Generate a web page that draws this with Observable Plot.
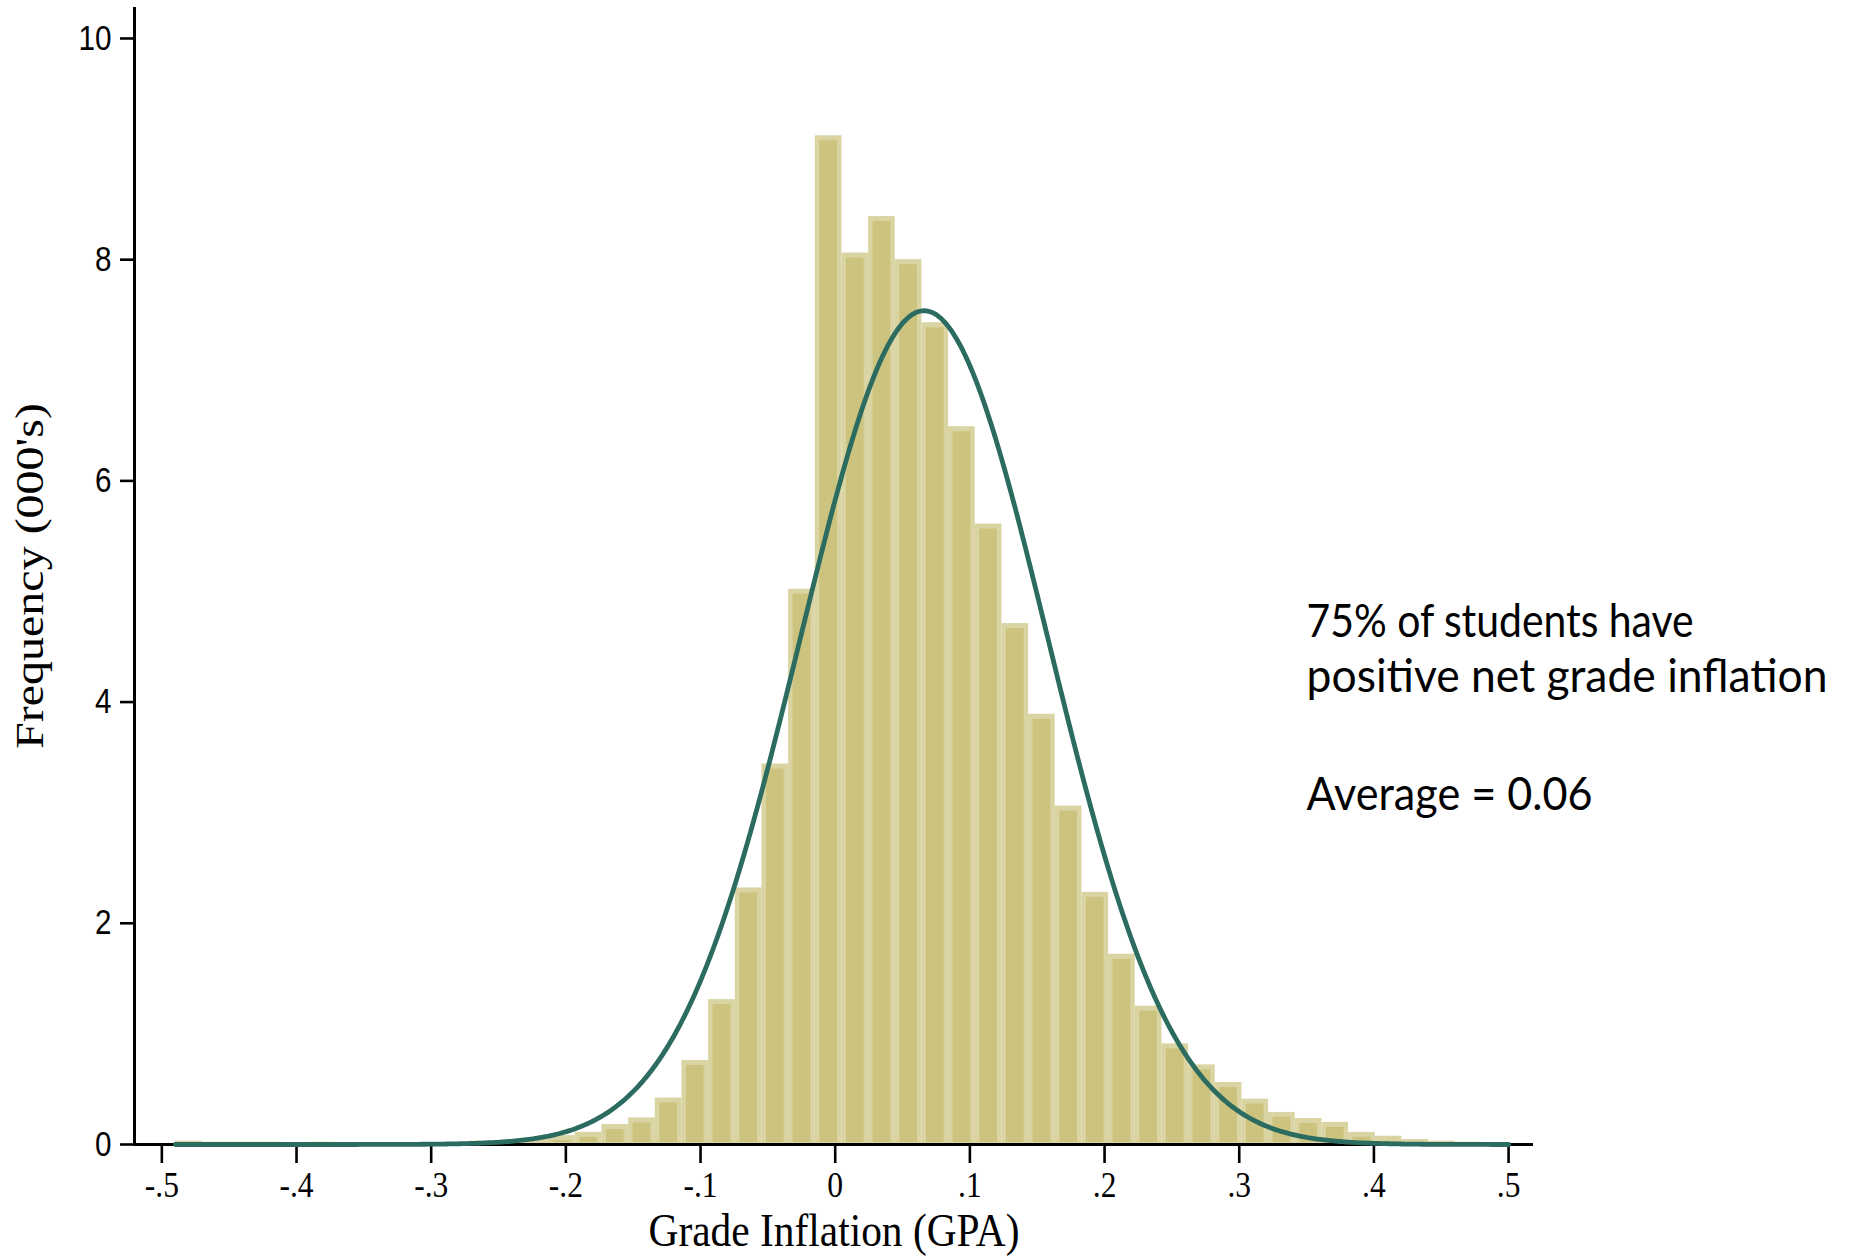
<!DOCTYPE html>
<html><head><meta charset="utf-8">
<script src="https://cdn.jsdelivr.net/npm/d3@7"></script>
<script src="https://cdn.jsdelivr.net/npm/@observablehq/plot@0.6"></script>
<style>
html,body{margin:0;padding:0;background:#fff;}
#chart svg{display:block;}
[aria-label^="x-axis"] path, [aria-label^="x-axis"] line,
[aria-label^="y-axis"] path, [aria-label^="y-axis"] line { stroke-width: 2.6px; stroke: #000; }
</style></head><body><div id="chart"></div>
<script>
// ---- data ----
const binStart = -0.49;
const binWidth = 0.0198;
const counts = [
  0.03, 0.02, 0.02, 0.02, 0.01, 0.02, 0.01, 0.01, 0.01, 0.01,
  0.02, 0.03, 0.03, 0.05, 0.08, 0.11, 0.18, 0.24, 0.42, 0.76,
  1.31, 2.32, 3.44, 5.02, 9.12, 8.06, 8.39, 8.00, 7.43, 6.49,
  5.61, 4.71, 3.89, 3.06, 2.28, 1.72, 1.25, 0.91, 0.72, 0.56,
  0.41, 0.29, 0.235, 0.20, 0.11, 0.075, 0.045, 0.03, 0.02, 0.015
];
const xTicks = [-0.5, -0.4, -0.3, -0.2, -0.1, 0, 0.1, 0.2, 0.3, 0.4, 0.5];
const xTickLabels = ["-.5", "-.4", "-.3", "-.2", "-.1", "0", ".1", ".2", ".3", ".4", ".5"];
const yTicks = [0, 2, 4, 6, 8, 10];
const yTickLabels = ["0", "2", "4", "6", "8", "10"];
const normalMean = 0.066;
const normalSD = 0.092;
const xTitle = "Grade Inflation (GPA)";
const yTitle = "Frequency (000's)";
const noteLines = ["75% of students have", "positive net grade inflation", "Average = 0.06"];

// ---- derived tables ----
const bins = counts.map((c, i) => ({x1: binStart + i * binWidth, x2: binStart + (i + 1) * binWidth, count: c}));
const total = d3.sum(counts);
const xMin = binStart, xMax = binStart + counts.length * binWidth;
const curve = d3.range(0, 601).map(i => {
  const x = xMin + (xMax - xMin) * i / 600;
  const z = (x - normalMean) / normalSD;
  return {x, y: total * binWidth / (normalSD * Math.sqrt(2 * Math.PI)) * Math.exp(-0.5 * z * z)};
});

const xDomain = [-0.5203, 0.5185];
const noteX = 0.35, noteY = 4.72;
const noteFont = "Lato, 'Open Sans', sans-serif";
const noteWidths = [387, 521, 286]; // rendered line widths in px (styling)
const serif = "'Liberation Serif', 'Times New Roman', serif";

const noteMark = (i, dy) => Plot.text([noteLines[i]], {
  x: () => noteX, y: () => noteY, text: d => d, textAnchor: "start",
  fontSize: 46, fontFamily: noteFont, fill: "#000", dy
});

const plot = Plot.plot({
  width: 1853, height: 1258,
  marginLeft: 134, marginRight: 320, marginTop: 7, marginBottom: 114,
  style: {background: "#fff", color: "#000", fontFamily: "'Liberation Sans', Arial, sans-serif", fontSize: "35px"},
  x: {domain: xDomain, ticks: xTicks, tickFormat: d => xTickLabels[xTicks.indexOf(d)], tickSize: 19, tickPadding: 9, label: null},
  y: {domain: [0, 10.28], ticks: yTicks, tickFormat: d => yTickLabels[yTicks.indexOf(d)], tickSize: 14, tickPadding: 9, label: null},
  marks: [
    Plot.rect(bins, {x1: "x1", x2: "x2", y1: 0, y2: "count", fill: "#d9d4a2"}),
    Plot.rect(bins, {x1: "x1", x2: "x2", y1: 0, y2: "count", fill: "#cbc37e", insetLeft: 4.5, insetRight: 4.5, insetTop: 5, insetBottom: 2}),
    Plot.ruleY([0], {stroke: "#000", strokeWidth: 3}),
    Plot.ruleX([xDomain[0]], {stroke: "#000", strokeWidth: 3}),
    Plot.line(curve, {x: "x", y: "y", stroke: "#2b6b60", strokeWidth: 4.8}),
    noteMark(0, 0),
    noteMark(1, 54.5),
    noteMark(2, 172.5),
    Plot.text([xTitle], {frameAnchor: "bottom", textAnchor: "middle", lineAnchor: "middle", dy: 87, text: d => d, fontSize: 46, fontFamily: serif, fill: "#000"}),
    Plot.text([yTitle], {frameAnchor: "left", textAnchor: "middle", lineAnchor: "middle", rotate: -90, dx: -105, text: d => d, fontSize: 48, fontFamily: serif, fill: "#000"})
  ]
});
document.getElementById("chart").append(plot);

// ---- post styling: fonts and horizontal squeeze of the Stata texts ----
const svg = d3.select(plot);
function squeeze(node, s) {
  const L = node.getComputedTextLength();
  node.setAttribute("textLength", (L * s).toFixed(1));
  node.setAttribute("lengthAdjust", "spacingAndGlyphs");
}
svg.selectAll('[aria-label^="x-axis"] text').each(function() {
  this.style.fontFamily = serif; this.style.fontSize = "35px"; squeeze(this, 0.9);
});
svg.selectAll('[aria-label^="y-axis"] text').each(function() {
  this.style.fontFamily = "'Liberation Sans', Arial, sans-serif"; this.style.fontSize = "35px"; squeeze(this, 0.85);
});
svg.selectAll("text").each(function() {
  const t = this.textContent;
  if (t === xTitle) squeeze(this, 0.9);
  if (t === yTitle) {
    const tr = this.getAttribute("transform") || "";
    this.setAttribute("transform", tr.replace("rotate(-90)", "scale(0.85,1) rotate(-90)"));
  }
  const k = noteLines.indexOf(t);
  if (k >= 0) {
    this.setAttribute("textLength", noteWidths[k]);
    this.setAttribute("lengthAdjust", "spacingAndGlyphs");
  }
});
</script>
</body></html>
